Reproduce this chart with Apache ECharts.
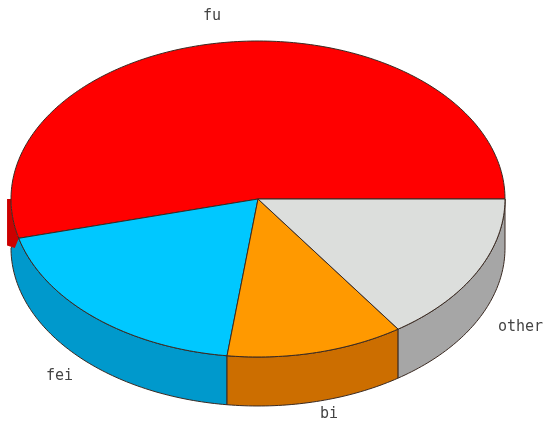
<!DOCTYPE html>
<html>
<head>
<meta charset="utf-8">
<style>
html,body{margin:0;padding:0;background:#fff;}
#chart{width:545px;height:424px;}
</style>
<script src="https://cdn.jsdelivr.net/npm/echarts@6/dist/echarts.min.js"></script>
</head>
<body>
<div id="chart"></div>
<script>
var categories = ['fu', 'fei', 'bi', 'other'];
var shares = [54.0, 19.0, 11.6, 15.4];
var topColors = ['#ff0000', '#00c8ff', '#ff9900', '#dcdedc'];
var sideColors = ['#cc0000', '#0099cc', '#cc6e00', '#a6a6a6'];

var depth = 0.31; // rim height, in units of the y radius
var total = shares.reduce(function (a, b) { return a + b; }, 0);

// running start angle of each slice, counter clockwise from 3 o'clock
var slices = [];
var running = 0;
shares.forEach(function (v, i) {
	slices.push([i, running, running + v / total * 360]);
	running += v / total * 360;
});

function rimPoint(deg, drop) {
	var r = deg * Math.PI / 180;
	return [Math.cos(r), Math.sin(r) - drop];
}

function arcPoints(from, to, drop, api) {
	var pts = [];
	var n = Math.max(2, Math.ceil(Math.abs(to - from)));
	for (var k = 0; k <= n; k++) {
		pts.push(api.coord(rimPoint(from + (to - from) * k / n, drop)));
	}
	return pts;
}

function renderSlice(params, api) {
	var i = api.value(0);
	var a0 = api.value(1);
	var a1 = api.value(2);
	var children = [];
	var line = { stroke: '#3a2a22', lineWidth: 1 };

	if (a0 < 180 && a1 > 180) {
		// the slice that wraps round the left edge only shows a short strip,
		// it sticks out a little past the disc like in the original
		var p0 = rimPoint(180, 0);
		var p1 = rimPoint(180, depth * 0.95);
		var p2 = rimPoint(a1, depth * 0.2);
		var strip = [
			api.coord([p0[0] - 0.016, p0[1]]),
			api.coord([p1[0] - 0.016, p1[1]]),
			api.coord([p2[0] - 0.016, p2[1]])
		].concat(arcPoints(a1, 180, 0, api));
		children.push({
			type: 'polygon',
			z2: 2,
			shape: { points: strip },
			style: { fill: sideColors[i] }
		});
	} else if (a0 >= 180 || a1 > 180) {
		// the rim under the wrap-round strip belongs to the next slice down
		var s0 = i === 1 ? 180 : a0;
		var rim = arcPoints(s0 === 180 ? a0 : s0, a1, 0, api).concat(arcPoints(a1, s0, depth, api));
		children.push({
			type: 'polygon',
			z2: 1,
			shape: { points: rim },
			style: Object.assign({ fill: sideColors[i] }, line)
		});
	}

	var top = [api.coord([0, 0])].concat(arcPoints(a0, a1, 0, api));
	children.push({
		type: 'polygon',
		z2: 3,
		shape: { points: top },
		style: Object.assign({ fill: topColors[i] }, line)
	});
	return { type: 'group', children: children };
}

function labelText(name, x, y) {
	return {
		type: 'text',
		left: x,
		top: y,
		style: {
			text: name,
			fill: '#444',
			font: '15px "DejaVu Sans Mono"'
		}
	};
}

var chart = echarts.init(document.getElementById('chart'), null, { renderer: 'canvas' });
chart.setOption({
	animation: false,
	backgroundColor: '#fff',
	grid: { left: 11, width: 494, top: 41, height: 316 },
	xAxis: { type: 'value', min: -1, max: 1, show: false },
	yAxis: { type: 'value', min: -1, max: 1, show: false },
	series: [{
		type: 'custom',
		clip: false,
		coordinateSystem: 'cartesian2d',
		renderItem: renderSlice,
		encode: { x: 1, y: 2 },
		data: slices
	}],
	graphic: [
		labelText(categories[0], 203, 9),
		labelText(categories[1], 46, 369),
		labelText(categories[2], 320, 407),
		labelText(categories[3], 498, 320)
	]
});
</script>
</body>
</html>
